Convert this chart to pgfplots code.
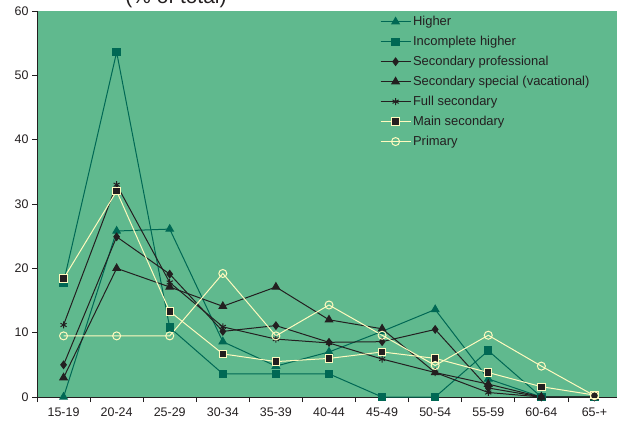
\documentclass[border=0pt]{standalone}
\usepackage{pgfplots}
\pgfplotsset{compat=1.18}
\usepackage{fontspec}
\setmainfont{Liberation Sans}
\definecolor{bg}{RGB}{96,185,142}
\definecolor{teal}{RGB}{0,104,84}
\definecolor{blk}{RGB}{35,31,32}
\definecolor{cream}{RGB}{255,250,190}
\begin{document}
\begin{tikzpicture}[x=1bp,y=1bp]
\begin{axis}[
  at={(0,0)}, anchor=south west,
  scale only axis, width=584bp, height=386bp,
  xmin=-0.5, xmax=10.5, ymin=0, ymax=60,
  axis lines*=left,
  axis line style={blk, line width=0.8bp},
  axis background/.style={fill=bg},
  xtick={0,...,10},
  xticklabels={15-19,20-24,25-29,30-34,35-39,40-44,45-49,50-54,55-59,60-64,65-+},
  major x tick style={draw=none},
  minor xtick={-0.5,0.5,...,10.5},
  minor tick length=5bp,
  ytick={0,10,...,60},
  major tick length=5bp,
  tick align=outside,
  tick style={blk, line width=0.8bp},
  /pgf/number format/assume math mode=true,
  tick label style={font=\fontsize{12.5}{13}\selectfont, text=blk},
  xticklabel style={yshift=-2bp},
  clip=false,
  legend style={at={(0.582,0.997)}, anchor=north west, draw=none, fill=none,
    font=\fontsize{13}{14}\selectfont, text=blk, row sep=5.1bp,
    cells={anchor=west}},
  legend image code/.code={\draw[mark repeat=2,mark phase=2,#1] plot coordinates {(0bp,0bp) (15bp,0bp) (30bp,0bp)};},
]
\addplot[teal, line width=1bp, mark=triangle*, mark size=4.3bp, mark options={fill=teal, draw=teal}]
  coordinates {(0,0) (1,25.8) (2,26.1) (3,8.6) (4,4.8) (5,7.0) (6,10.2) (7,13.6) (8,2.8) (9,0) (10,0)};
\addlegendentry{Higher}
\addplot[teal, line width=1bp, mark=square*, mark size=3.7bp, mark options={fill=teal, draw=teal}]
  coordinates {(0,17.8) (1,53.6) (2,10.8) (3,3.6) (4,3.6) (5,3.6) (6,0) (7,0) (8,7.2) (9,0) (10,0)};
\addlegendentry{Incomplete higher}
\addplot[blk, line width=1bp, mark=diamond*, mark size=3.7bp, mark options={fill=blk, draw=blk}]
  coordinates {(0,5.0) (1,24.9) (2,19.1) (3,10.2) (4,11.1) (5,8.5) (6,8.6) (7,10.5) (8,1.4) (9,0) (10,0)};
\addlegendentry{Secondary professional}
\addplot[blk, line width=1bp, mark=triangle*, mark size=4.3bp, mark options={fill=blk, draw=blk}]
  coordinates {(0,3.0) (1,20.0) (2,17.1) (3,14.1) (4,17.1) (5,12.0) (6,10.6) (7,3.8) (8,2.0) (9,0) (10,0)};
\addlegendentry{Secondary special (vacational)}
\addplot[blk, line width=1bp, mark=asterisk, mark size=3.5bp, mark options={draw=blk, line width=1bp}]
  coordinates {(0,11.2) (1,33.0) (2,17.8) (3,10.9) (4,9.0) (5,8.4) (6,5.9) (7,3.8) (8,0.7) (9,0) (10,0)};
\addlegendentry{Full secondary}
\addplot[cream, line width=1bp, mark=square*, mark size=3.7bp, mark options={fill=blk, draw=cream, line width=1bp}]
  coordinates {(0,18.4) (1,32.0) (2,13.3) (3,6.7) (4,5.5) (5,6.0) (6,7.0) (7,6.0) (8,3.8) (9,1.6) (10,0.3)};
\addlegendentry{Main secondary}
\addplot[cream, line width=1bp, mark=o, mark size=4bp, mark options={draw=cream, fill=bg, line width=1bp}]
  coordinates {(0,9.5) (1,9.5) (2,9.5) (3,19.2) (4,9.5) (5,14.3) (6,9.6) (7,4.9) (8,9.6) (9,4.8) (10,0.2)};
\addlegendentry{Primary}
\end{axis}
\node[anchor=base, font=\fontsize{21}{24}\selectfont, text=blk] at (139bp,393bp) {(\% of total)};
\pgfresetboundingbox
\useasboundingbox (-37bp,-28bp) rectangle (580bp,397bp);
\end{tikzpicture}
\end{document}
